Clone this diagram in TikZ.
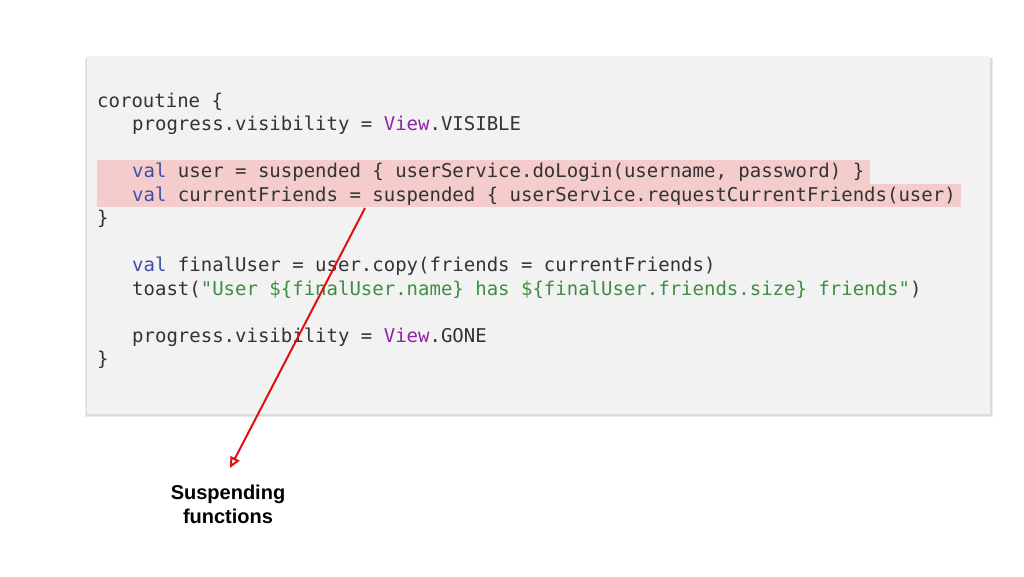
\documentclass[tikz,border=0pt]{standalone}
\usepackage{fontspec}
\setmainfont{Liberation Sans}
\newfontfamily\codefont{DejaVu Sans Mono}
\usetikzlibrary{arrows.meta}
\pgfdeclarelayer{panel}
\pgfdeclarelayer{bands}
\pgfsetlayers{panel,bands,main}
\definecolor{boxbg}{HTML}{F2F2F2}
\definecolor{hilite}{HTML}{F4CCCC}
\definecolor{codetext}{HTML}{333333}
\definecolor{kwblue}{HTML}{3F4FA8}
\definecolor{typepurple}{HTML}{8E24AA}
\definecolor{strgreen}{HTML}{3E8E41}
\definecolor{arrowred}{HTML}{E01010}
\newcommand{\kw}[1]{\textcolor{kwblue}{#1}}
\newcommand{\ty}[1]{\textcolor{typepurple}{#1}}
\newcommand{\st}[1]{\textcolor{strgreen}{#1}}
\tikzset{
  codeline/.style={anchor=base west, inner sep=0pt, font=\codefont\fontsize{19}{23}\selectfont, text=codetext},
  band/.style={fill=hilite, draw=none},
  callout/.style={draw=arrowred, line width=2pt, -{Triangle[open, length=11pt, width=10pt]}},
  label/.style={align=center, inner sep=0pt, font=\bfseries\fontsize{20}{24}\selectfont, text=black}
}
\begin{document}
\begin{tikzpicture}[x=1pt, y=-1pt]
\useasboundingbox (0,0) rectangle (1024,576);
% code lines
\node[codeline] (l0) at (97,107) {coroutine \{};
\node[codeline] (l1) at (132,130.5) {progress.visibility = \ty{View}.VISIBLE};
\node[codeline] (l3) at (132,177.5) {\kw{val} user = suspended \{ userService.doLogin(username, password) \}};
\node[codeline] (l4) at (132,201) {\kw{val} currentFriends = suspended \{ userService.requestCurrentFriends(user)};
\node[codeline] (l5) at (97,224.5) {\}};
\node[codeline] (l7) at (132,271.5) {\kw{val} finalUser = user.copy(friends = currentFriends)};
\node[codeline] (l8) at (132,295) {toast(\st{"User \$\{finalUser.name\} has \$\{finalUser.friends.size\} friends"})};
\node[codeline] (l10) at (132,342) {progress.visibility = \ty{View}.GONE};
\node[codeline] (l11) at (97,365.5) {\}};
% highlight bands
\begin{pgfonlayer}{bands}
\fill[band] (97,160) rectangle ([xshift=5pt]l3.east |- 0,183.5);
\fill[band] (97,183.5) rectangle ([xshift=5pt]l4.east |- 0,207);
\end{pgfonlayer}
% shadow and panel
\begin{pgfonlayer}{panel}
\fill[white] (0,0) rectangle (1024,576);
\fill[black!8] (85,58) rectangle (993,417);
\fill[black!14] (86,58) rectangle (992,416);
\fill[boxbg] (87,56) rectangle (990,414);
\end{pgfonlayer}
% label and arrow
\node[label] (lbl) at (228,504) {Suspending\\functions};
\coordinate (from) at (365,208);
\coordinate (to) at (230,468);
\draw[callout] (from) -- (to);
\end{tikzpicture}
\end{document}
